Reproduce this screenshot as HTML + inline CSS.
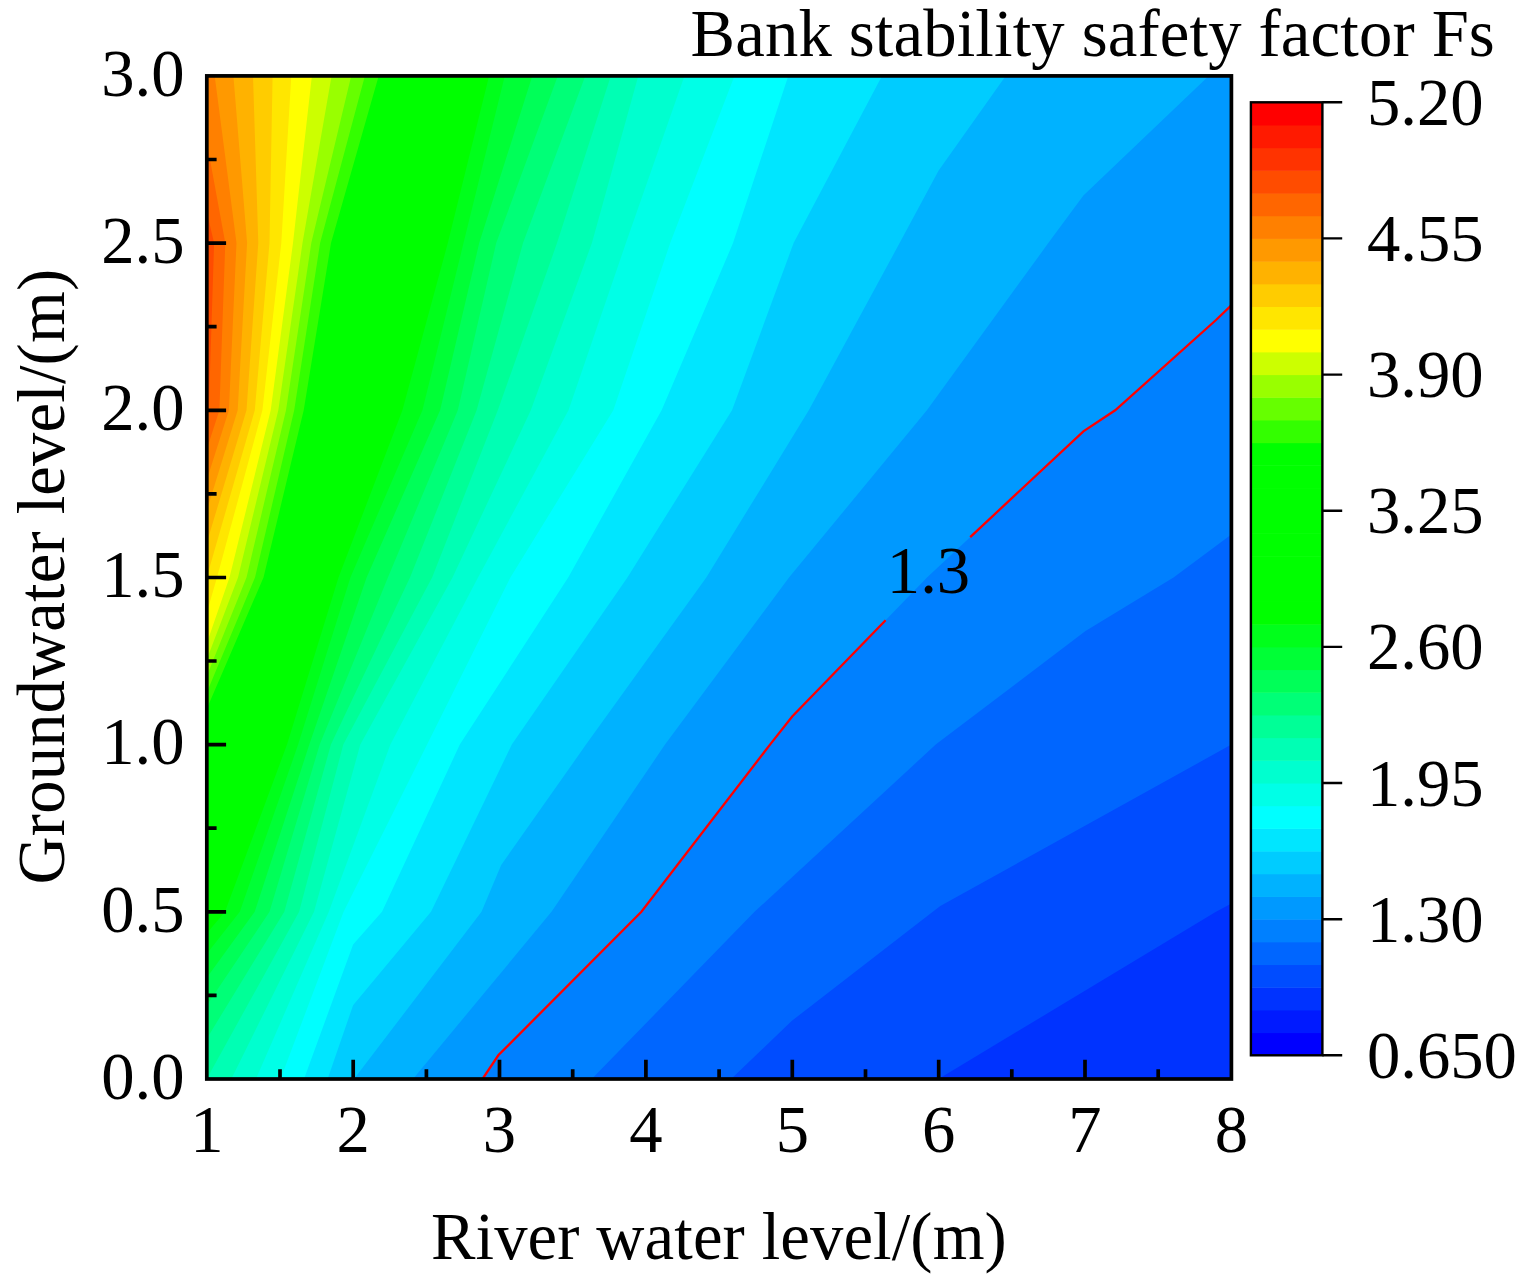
<!DOCTYPE html>
<html><head><meta charset="utf-8"><title>Bank stability safety factor Fs</title>
<style>html,body{margin:0;padding:0;background:#fff}svg{display:block}</style></head>
<body>
<svg width="1528" height="1281" viewBox="0 0 1528 1281" style="display:block">
<rect width="1528" height="1281" fill="#fff"/>
<clipPath id="pc"><rect x="206.8" y="75.9" width="1024.6" height="1003.1"/></clipPath>
<g clip-path="url(#pc)">
<rect x="204.8" y="73.9" width="1028.6" height="1007.1" fill="#0033ff"/>
<path d="M-400 72.9L1900 72.9L1900 75.9L1900 243.1L1900 410.3L1854.7 577.5L1527.1 744.6L1216 911.8L938.5 1079L938.5 1082L-400 1082Z" fill="#004cff"/>
<path d="M-400 72.9L1825.2 72.9L1825.2 75.9L1790.6 243.1L1682 410.3L1514.1 577.5L1231.4 744.6L940.3 906L932.8 911.8L791.9 1020.8L731.1 1079L731.1 1082L-400 1082Z" fill="#0066ff"/>
<path d="M-400 72.9L1619.7 72.9L1619.7 75.9L1543.2 243.1L1398.6 410.3L1173.5 577.5L1085.5 630.9L935.7 744.6L754.5 911.8L591.7 1079L591.7 1082L-400 1082Z" fill="#0080ff"/>
<path d="M-400 72.9L1414.3 72.9L1414.3 75.9L1295.7 243.1L1216 320L1115.2 410.3L1083.4 431.3L927 577.5L792.2 716.5L770 744.6L641.4 911.8L498.3 1055.3L482.5 1079L482.5 1082L-400 1082Z" fill="#0099ff"/>
<path d="M-400 72.9L1208.8 72.9L1208.8 75.9L1083.4 195.4L1048.3 243.1L926.9 410.3L789 577.5L665 744.6L551.5 911.8L413 1079L413 1082L-400 1082Z" fill="#00b2ff"/>
<path d="M-400 72.9L1005.7 72.9L1005.7 75.9L938.5 170.7L899.6 243.1L808.8 410.3L706.3 577.5L586 744.6L501.2 865L481.5 911.8L354 1079L354 1082L-400 1082Z" fill="#00ccff"/>
<path d="M-400 72.9L882 72.9L882 75.9L793.6 243.1L732 410.3L627.4 577.5L511.8 744.6L431 911.8L353.1 1005.2L327.6 1079L327.6 1082L-400 1082Z" fill="#00e6ff"/>
<path d="M-400 72.9L788.3 72.9L788.3 75.9L733 243.1L661.6 410.3L568.2 577.5L459.8 744.6L382 911.8L353.1 944.5L304 1079L304 1082L-400 1082Z" fill="#00ffff"/>
<path d="M-400 72.9L734.5 72.9L734.5 75.9L670.2 243.1L613.3 410.3L510.4 577.5L427.1 744.6L343.6 911.8L280.5 1079L280.5 1082L-400 1082Z" fill="#00ffe7"/>
<path d="M-400 72.9L684.5 72.9L684.5 75.9L625.9 243.1L568.5 410.3L478 577.5L390.4 744.6L328.8 911.8L255.9 1079L255.9 1082L-400 1082Z" fill="#00ffcf"/>
<path d="M-400 72.9L638.3 72.9L638.3 75.9L591.9 243.1L530.8 410.3L452.5 577.5L360.3 744.6L314 911.8L231.3 1079L231.3 1082L-400 1082Z" fill="#00ffb4"/>
<path d="M-400 72.9L610.8 72.9L610.8 75.9L557 243.1L497.8 410.3L432.1 577.5L343.3 744.6L299.1 911.8L206.7 1079L206.7 1082L-400 1082Z" fill="#00ff97"/>
<path d="M-400 72.9L585.3 72.9L585.3 75.9L523 243.1L476.6 410.3L410 577.5L330.9 744.6L284.3 911.8L182.1 1079L182.1 1082L-400 1082Z" fill="#00ff77"/>
<path d="M-400 72.9L557.8 72.9L557.8 75.9L496.2 243.1L457.8 410.3L387.9 577.5L319.7 744.6L269.5 911.8L157.5 1079L157.5 1082L-400 1082Z" fill="#00ff58"/>
<path d="M-400 72.9L532.3 72.9L532.3 75.9L479.2 243.1L440.1 410.3L366.6 577.5L309.3 744.6L254.7 911.8L132.9 1079L132.9 1082L-400 1082Z" fill="#00ff36"/>
<path d="M-400 72.9L504.8 72.9L504.8 75.9L463.5 243.1L422.4 410.3L350.4 577.5L298.1 744.6L239.8 911.8L108.3 1079L108.3 1082L-400 1082Z" fill="#00ff1b"/>
<path d="M-400 72.9L489.1 72.9L489.1 75.9L447.8 243.1L402.4 410.3L338.5 577.5L287 744.6L225 911.8L83.7 1079L83.7 1082L-400 1082Z" fill="#00ff00"/>
<path d="M-400 72.9L475.3 72.9L475.3 75.9L433.2 243.1L390.1 410.3L329.1 577.5L275.5 744.6L211.9 911.8L59.1 1079L59.1 1082L-400 1082Z" fill="#00ff00"/>
<path d="M-400 72.9L461.5 72.9L461.5 75.9L418.6 243.1L377.7 410.3L319.8 577.5L264.1 744.6L198.9 911.8L34.5 1079L34.5 1082L-400 1082Z" fill="#00ff00"/>
<path d="M-400 72.9L447.7 72.9L447.7 75.9L404 243.1L365.4 410.3L310.4 577.5L252.6 744.6L185.8 911.8L9.9 1079L9.9 1082L-400 1082Z" fill="#00ff00"/>
<path d="M-400 72.9L433.9 72.9L433.9 75.9L389.4 243.1L353 410.3L301 577.5L241.1 744.6L172.7 911.8L-14.7 1079L-14.7 1082L-400 1082Z" fill="#00ff00"/>
<path d="M-400 72.9L420.1 72.9L420.1 75.9L374.8 243.1L340.7 410.3L291.6 577.5L229.6 744.6L159.6 911.8L-39.3 1079L-39.3 1082L-400 1082Z" fill="#00ff00"/>
<path d="M-400 72.9L406.3 72.9L406.3 75.9L360.2 243.1L328.4 410.3L282.2 577.5L218.2 744.6L146.6 911.8L-63.9 1079L-63.9 1082L-400 1082Z" fill="#00ff00"/>
<path d="M-400 72.9L392.5 72.9L392.5 75.9L345.6 243.1L316 410.3L272.9 577.5L206.7 744.6L133.5 911.8L-88.5 1079L-88.5 1082L-400 1082Z" fill="#00ff00"/>
<path d="M-400 72.9L378.7 72.9L378.7 75.9L331 243.1L303.7 410.3L263.5 577.5L206.8 708.8L195.2 744.6L120.4 911.8L-113.1 1079L-113.1 1082L-400 1082Z" fill="#33ff00"/>
<path d="M-400 72.9L364.9 72.9L364.9 75.9L320.1 243.1L294.2 410.3L255 577.5L206.8 692.4L183.8 744.6L107.4 911.8L-137.7 1079L-137.7 1082L-400 1082Z" fill="#66ff00"/>
<path d="M-400 72.9L351.2 72.9L351.2 75.9L311.3 243.1L286 410.3L246.5 577.5L206.8 676L172.3 744.6L94.3 911.8L-162.3 1079L-162.3 1082L-400 1082Z" fill="#99ff00"/>
<path d="M-400 72.9L331.6 72.9L331.6 75.9L302.5 243.1L278.3 410.3L238 577.5L206.8 659.6L160.8 744.6L81.2 911.8L-186.9 1079L-186.9 1082L-400 1082Z" fill="#ccff00"/>
<path d="M-400 72.9L311.9 72.9L311.9 75.9L293 243.1L270.7 410.3L229.5 577.5L206.8 643.2L149.3 744.6L68.1 911.8L-211.5 1079L-211.5 1082L-400 1082Z" fill="#ffff00"/>
<path d="M-400 72.9L291.3 72.9L291.3 75.9L281.3 243.1L262.4 410.3L217 577.5L206.8 612.8L137.9 744.6L55.1 911.8L-236.1 1079L-236.1 1082L-400 1082Z" fill="#ffe600"/>
<path d="M-400 72.9L272.6 72.9L272.6 75.9L269.5 243.1L254.8 410.3L206.7 577.5L126.4 744.6L42 911.8L-260.7 1079L-260.7 1082L-400 1082Z" fill="#ffcc00"/>
<path d="M-400 72.9L253 72.9L253 75.9L258.3 243.1L246.5 410.3L196.4 577.5L114.9 744.6L28.9 911.8L-285.3 1079L-285.3 1082L-400 1082Z" fill="#ffb200"/>
<path d="M-400 72.9L233.4 72.9L233.4 75.9L247.1 243.1L237.7 410.3L186.1 577.5L103.5 744.6L15.9 911.8L-300 1079L-300 1082L-400 1082Z" fill="#ff9900"/>
<path d="M-400 72.9L214.7 72.9L214.7 75.9L236.5 243.1L228.9 410.3L175.8 577.5L92 744.6L2.8 911.8L-300 1079L-300 1082L-400 1082Z" fill="#ff8000"/>
<path d="M-400 72.9L194.7 72.9L194.7 75.9L225.3 243.1L219.4 410.3L165.5 577.5L80.5 744.6L-10.3 911.8L-300 1079L-300 1082L-400 1082Z" fill="#ff6600"/>
<path d="M-400 72.9L174.7 72.9L174.7 75.9L214.1 243.1L208.8 410.3L155.2 577.5L69 744.6L-23.4 911.8L-300 1079L-300 1082L-400 1082Z" fill="#ff4c00"/>
</g>
<path d="M1414.3 75.9L1295.7 243.1L1216 320L1115.2 410.3L1083.4 431.3L970.2 537.1" fill="none" stroke="#ff0000" stroke-width="2.3" clip-path="url(#pc)"/>
<path d="M885.6 620.2L792.2 716.5L770 744.6L641.4 911.8L498.3 1055.3L482.5 1079" fill="none" stroke="#ff0000" stroke-width="2.3" clip-path="url(#pc)"/>
<text x="928.5" y="592.5" text-anchor="middle" font-family="Liberation Serif, serif" font-size="66.67">1.3</text>
<rect x="206.8" y="75.9" width="1024.6" height="1003.1" fill="none" stroke="#000" stroke-width="3.7"/>
<path d="M353.2 1079.0v-19.3M499.5 1079.0v-19.3M645.9 1079.0v-19.3M792.3 1079.0v-19.3M938.7 1079.0v-19.3M1085.0 1079.0v-19.3M280.0 1079.0v-9.8M426.4 1079.0v-9.8M572.7 1079.0v-9.8M719.1 1079.0v-9.8M865.5 1079.0v-9.8M1011.8 1079.0v-9.8M1158.2 1079.0v-9.8M206.8 911.8h19.3M206.8 744.6h19.3M206.8 577.5h19.3M206.8 410.3h19.3M206.8 243.1h19.3M206.8 995.4h9.8M206.8 828.2h9.8M206.8 661.0h9.8M206.8 493.9h9.8M206.8 326.7h9.8M206.8 159.5h9.8" stroke="#000" stroke-width="3.7" fill="none"/>
<text x="206.8" y="1151.5" text-anchor="middle" font-family="Liberation Serif, serif" font-size="66.67">1</text>
<text x="353.2" y="1151.5" text-anchor="middle" font-family="Liberation Serif, serif" font-size="66.67">2</text>
<text x="499.5" y="1151.5" text-anchor="middle" font-family="Liberation Serif, serif" font-size="66.67">3</text>
<text x="645.9" y="1151.5" text-anchor="middle" font-family="Liberation Serif, serif" font-size="66.67">4</text>
<text x="792.3" y="1151.5" text-anchor="middle" font-family="Liberation Serif, serif" font-size="66.67">5</text>
<text x="938.7" y="1151.5" text-anchor="middle" font-family="Liberation Serif, serif" font-size="66.67">6</text>
<text x="1085.0" y="1151.5" text-anchor="middle" font-family="Liberation Serif, serif" font-size="66.67">7</text>
<text x="1231.4" y="1151.5" text-anchor="middle" font-family="Liberation Serif, serif" font-size="66.67">8</text>
<text x="184.6" y="1098.8" text-anchor="end" font-family="Liberation Serif, serif" font-size="66.67">0.0</text>
<text x="184.6" y="931.6" text-anchor="end" font-family="Liberation Serif, serif" font-size="66.67">0.5</text>
<text x="184.6" y="764.4" text-anchor="end" font-family="Liberation Serif, serif" font-size="66.67">1.0</text>
<text x="184.6" y="597.2" text-anchor="end" font-family="Liberation Serif, serif" font-size="66.67">1.5</text>
<text x="184.6" y="430.1" text-anchor="end" font-family="Liberation Serif, serif" font-size="66.67">2.0</text>
<text x="184.6" y="262.9" text-anchor="end" font-family="Liberation Serif, serif" font-size="66.67">2.5</text>
<text x="184.6" y="95.7" text-anchor="end" font-family="Liberation Serif, serif" font-size="66.67">3.0</text>
<text x="431" y="1259" textLength="575.8" font-family="Liberation Serif, serif" font-size="66.67">River water level/(m)</text>
<text transform="translate(64.4 884.4) rotate(-90)" textLength="615.5" font-family="Liberation Serif, serif" font-size="66.67">Groundwater level/(m)</text>
<text x="690.6" y="55.5" textLength="804.2" font-family="Liberation Serif, serif" font-size="66.67">Bank stability safety factor Fs</text>
<rect x="1250.9" y="1032.61" width="71.5" height="23.19" fill="#0000ff"/>
<rect x="1250.9" y="1009.92" width="71.5" height="23.19" fill="#001aff"/>
<rect x="1250.9" y="987.23" width="71.5" height="23.19" fill="#0033ff"/>
<rect x="1250.9" y="964.54" width="71.5" height="23.19" fill="#004cff"/>
<rect x="1250.9" y="941.85" width="71.5" height="23.19" fill="#0066ff"/>
<rect x="1250.9" y="919.16" width="71.5" height="23.19" fill="#0080ff"/>
<rect x="1250.9" y="896.47" width="71.5" height="23.19" fill="#0099ff"/>
<rect x="1250.9" y="873.78" width="71.5" height="23.19" fill="#00b2ff"/>
<rect x="1250.9" y="851.09" width="71.5" height="23.19" fill="#00ccff"/>
<rect x="1250.9" y="828.40" width="71.5" height="23.19" fill="#00e6ff"/>
<rect x="1250.9" y="805.70" width="71.5" height="23.19" fill="#00ffff"/>
<rect x="1250.9" y="783.01" width="71.5" height="23.19" fill="#00ffe7"/>
<rect x="1250.9" y="760.32" width="71.5" height="23.19" fill="#00ffcf"/>
<rect x="1250.9" y="737.63" width="71.5" height="23.19" fill="#00ffb4"/>
<rect x="1250.9" y="714.94" width="71.5" height="23.19" fill="#00ff97"/>
<rect x="1250.9" y="692.25" width="71.5" height="23.19" fill="#00ff77"/>
<rect x="1250.9" y="669.56" width="71.5" height="23.19" fill="#00ff58"/>
<rect x="1250.9" y="646.87" width="71.5" height="23.19" fill="#00ff36"/>
<rect x="1250.9" y="624.18" width="71.5" height="23.19" fill="#00ff1b"/>
<rect x="1250.9" y="601.49" width="71.5" height="23.19" fill="#00ff00"/>
<rect x="1250.9" y="578.80" width="71.5" height="23.19" fill="#00ff00"/>
<rect x="1250.9" y="556.11" width="71.5" height="23.19" fill="#00ff00"/>
<rect x="1250.9" y="533.42" width="71.5" height="23.19" fill="#00ff00"/>
<rect x="1250.9" y="510.73" width="71.5" height="23.19" fill="#00ff00"/>
<rect x="1250.9" y="488.04" width="71.5" height="23.19" fill="#00ff00"/>
<rect x="1250.9" y="465.35" width="71.5" height="23.19" fill="#00ff00"/>
<rect x="1250.9" y="442.66" width="71.5" height="23.19" fill="#00ff00"/>
<rect x="1250.9" y="419.97" width="71.5" height="23.19" fill="#33ff00"/>
<rect x="1250.9" y="397.28" width="71.5" height="23.19" fill="#66ff00"/>
<rect x="1250.9" y="374.59" width="71.5" height="23.19" fill="#99ff00"/>
<rect x="1250.9" y="351.90" width="71.5" height="23.19" fill="#ccff00"/>
<rect x="1250.9" y="329.20" width="71.5" height="23.19" fill="#ffff00"/>
<rect x="1250.9" y="306.51" width="71.5" height="23.19" fill="#ffe600"/>
<rect x="1250.9" y="283.82" width="71.5" height="23.19" fill="#ffcc00"/>
<rect x="1250.9" y="261.13" width="71.5" height="23.19" fill="#ffb200"/>
<rect x="1250.9" y="238.44" width="71.5" height="23.19" fill="#ff9900"/>
<rect x="1250.9" y="215.75" width="71.5" height="23.19" fill="#ff8000"/>
<rect x="1250.9" y="193.06" width="71.5" height="23.19" fill="#ff6600"/>
<rect x="1250.9" y="170.37" width="71.5" height="23.19" fill="#ff4c00"/>
<rect x="1250.9" y="147.68" width="71.5" height="23.19" fill="#ff3300"/>
<rect x="1250.9" y="124.99" width="71.5" height="23.19" fill="#ff1a00"/>
<rect x="1250.9" y="102.30" width="71.5" height="23.19" fill="#ff0000"/>
<rect x="1250.9" y="102.3" width="71.5" height="953.0" fill="none" stroke="#000" stroke-width="2.4"/>
<text x="1366.9" y="1077.8" font-family="Liberation Serif, serif" font-size="66.67">0.650</text>
<text x="1366.9" y="941.7" font-family="Liberation Serif, serif" font-size="66.67">1.30</text>
<text x="1366.9" y="805.5" font-family="Liberation Serif, serif" font-size="66.67">1.95</text>
<text x="1366.9" y="669.4" font-family="Liberation Serif, serif" font-size="66.67">2.60</text>
<text x="1366.9" y="533.2" font-family="Liberation Serif, serif" font-size="66.67">3.25</text>
<text x="1366.9" y="397.1" font-family="Liberation Serif, serif" font-size="66.67">3.90</text>
<text x="1366.9" y="260.9" font-family="Liberation Serif, serif" font-size="66.67">4.55</text>
<text x="1366.9" y="124.8" font-family="Liberation Serif, serif" font-size="66.67">5.20</text>
<path d="M1322.4 1055.3h19.8M1322.4 919.2h19.8M1322.4 783.0h19.8M1322.4 646.9h19.8M1322.4 510.7h19.8M1322.4 374.6h19.8M1322.4 238.4h19.8M1322.4 102.3h19.8" stroke="#000" stroke-width="2.4" fill="none"/>
</svg>
</body></html>
